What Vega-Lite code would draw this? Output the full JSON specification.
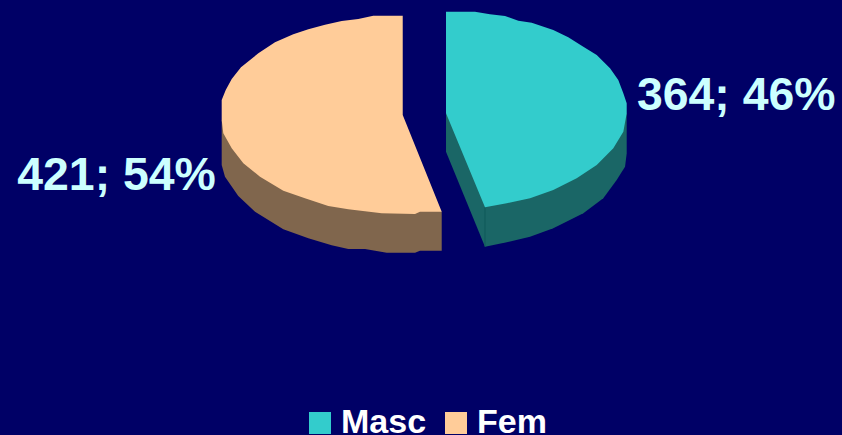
{
"$schema":"https://vega.github.io/schema/vega-lite/v6.json",
"width":842,"height":435,"padding":0,"autosize":{"type":"none"},
"background":"#000066",
"view":{"stroke":null},
"config":{"font":"Liberation Sans"},
"datasets":{
"walls":[
{"series":"Masc wall","ord":1,"x":52.97,"y":73.95},{"series":"Masc wall","ord":2,"x":52.97,"y":65.13},{"series":"Masc wall","ord":3,"x":57.60,"y":43.29},{"series":"Masc wall","ord":4,"x":60.18,"y":44.30},{"series":"Masc wall","ord":5,"x":62.95,"y":45.59},{"series":"Masc wall","ord":6,"x":65.71,"y":47.52},{"series":"Masc wall","ord":7,"x":69.28,"y":50.97},{"series":"Masc wall","ord":8,"x":71.65,"y":54.41},{"series":"Masc wall","ord":9,"x":73.24,"y":58.62},{"series":"Masc wall","ord":10,"x":74.23,"y":61.68},{"series":"Masc wall","ord":11,"x":74.43,"y":64.76},{"series":"Masc wall","ord":12,"x":74.43,"y":73.95},
{"series":"Fem wall","ord":1,"x":26.33,"y":72.41},{"series":"Fem wall","ord":2,"x":26.33,"y":62.07},{"series":"Fem wall","ord":3,"x":26.72,"y":59.38},{"series":"Fem wall","ord":4,"x":28.30,"y":54.94},{"series":"Fem wall","ord":5,"x":30.29,"y":51.33},{"series":"Fem wall","ord":6,"x":33.65,"y":47.29},{"series":"Fem wall","ord":7,"x":36.62,"y":45.22},{"series":"Fem wall","ord":8,"x":39.39,"y":43.61},{"series":"Fem wall","ord":9,"x":41.37,"y":42.76},{"series":"Fem wall","ord":10,"x":43.35,"y":42.76},{"series":"Fem wall","ord":11,"x":45.93,"y":41.91},{"series":"Fem wall","ord":12,"x":49.29,"y":41.91},{"series":"Fem wall","ord":13,"x":49.88,"y":42.37},{"series":"Fem wall","ord":14,"x":52.46,"y":42.37},{"series":"Fem wall","ord":15,"x":52.46,"y":51.33},{"series":"Fem wall","ord":16,"x":47.83,"y":60}
],
"faces":[
{"series":"Masc","ord":1,"x":52.97,"y":97.31},{"series":"Masc","ord":2,"x":56.41,"y":97.31},{"series":"Masc","ord":3,"x":58.19,"y":96.71},{"series":"Masc","ord":4,"x":59.98,"y":96.32},{"series":"Masc","ord":5,"x":61.56,"y":95.24},{"series":"Masc","ord":6,"x":63.15,"y":94.78},{"series":"Masc","ord":7,"x":65.71,"y":93.10},{"series":"Masc","ord":8,"x":67.49,"y":91.43},{"series":"Masc","ord":9,"x":69.28,"y":89.26},{"series":"Masc","ord":10,"x":70.87,"y":87.36},{"series":"Masc","ord":11,"x":72.45,"y":84.30},{"series":"Masc","ord":12,"x":73.43,"y":81.61},{"series":"Masc","ord":13,"x":74.03,"y":78.55},{"series":"Masc","ord":14,"x":74.43,"y":76.25},{"series":"Masc","ord":15,"x":74.43,"y":73.95},{"series":"Masc","ord":16,"x":74.03,"y":69.72},{"series":"Masc","ord":17,"x":72.84,"y":65.91},{"series":"Masc","ord":18,"x":70.87,"y":62.07},{"series":"Masc","ord":19,"x":68.49,"y":59.01},{"series":"Masc","ord":20,"x":65.71,"y":56.32},{"series":"Masc","ord":21,"x":62.95,"y":54.41},{"series":"Masc","ord":22,"x":60.18,"y":53.26},{"series":"Masc","ord":23,"x":57.60,"y":52.34},{"series":"Masc","ord":24,"x":52.97,"y":73.95},
{"series":"Fem","ord":1,"x":47.83,"y":96.39},{"series":"Fem","ord":2,"x":44.33,"y":96.39},{"series":"Fem","ord":3,"x":42.55,"y":95.63},{"series":"Fem","ord":4,"x":40.58,"y":95.17},{"series":"Fem","ord":5,"x":38.60,"y":94.32},{"series":"Fem","ord":6,"x":36.62,"y":93.26},{"series":"Fem","ord":7,"x":34.83,"y":92.11},{"series":"Fem","ord":8,"x":32.66,"y":90.28},{"series":"Fem","ord":9,"x":30.68,"y":87.75},{"series":"Fem","ord":10,"x":28.62,"y":84.53},{"series":"Fem","ord":11,"x":27.52,"y":81.84},{"series":"Fem","ord":12,"x":26.81,"y":79.31},{"series":"Fem","ord":13,"x":26.33,"y":77.01},{"series":"Fem","ord":14,"x":26.33,"y":72.41},{"series":"Fem","ord":15,"x":26.52,"y":69.36},{"series":"Fem","ord":16,"x":27.52,"y":65.91},{"series":"Fem","ord":17,"x":28.90,"y":62.46},{"series":"Fem","ord":18,"x":30.88,"y":59.38},{"series":"Fem","ord":19,"x":33.65,"y":56.16},{"series":"Fem","ord":20,"x":36.22,"y":54.41},{"series":"Fem","ord":21,"x":38.99,"y":52.64},{"series":"Fem","ord":22,"x":41.37,"y":51.89},{"series":"Fem","ord":23,"x":45.33,"y":50.97},{"series":"Fem","ord":24,"x":49.29,"y":50.80},{"series":"Fem","ord":25,"x":49.88,"y":51.33},{"series":"Fem","ord":26,"x":52.46,"y":51.33},{"series":"Fem","ord":27,"x":47.83,"y":73.56}
],
"edge":[
{"ord":1,"x":57.60,"y":52.34},{"ord":2,"x":57.60,"y":43.29}
],
"labels":[
{"series":"Masc","count":364,"share":46,"label":"364; 46%","x":75.65,"y":74.71},
{"series":"Fem","count":421,"share":54,"label":"421; 54%","x":2.05,"y":56.32}
]
},
"encoding":{
"x":{"field":"x","type":"quantitative","scale":{"domain":[0,100]},"axis":null},
"y":{"field":"y","type":"quantitative","scale":{"domain":[0,100]},"axis":null}
},
"layer":[
{"data":{"name":"walls"},"mark":{"type":"line","filled":true,"interpolate":"linear-closed"},
"encoding":{"order":{"field":"ord","type":"quantitative"},
"color":{"field":"series","type":"nominal","scale":{"domain":["Masc","Fem","Masc wall","Fem wall"],"range":["#33CCCC","#FFCC99","#1A6666","#80664D"]},
"legend":{"orient":"none","legendX":303,"legendY":407,"direction":"horizontal","title":null,"values":["Masc","Fem"],"symbolType":"square","symbolSize":484,"symbolStrokeWidth":0,"symbolOpacity":1,"labelFontSize":34,"labelFontWeight":"bold","labelColor":"#FFFFFF","labelFont":"Liberation Sans","labelOffset":4,"columnPadding":12,"labelLimit":200,"clipHeight":32}}}},
{"data":{"name":"edge"},"mark":{"type":"line","color":"#0F5A5A","strokeWidth":1},
"encoding":{"order":{"field":"ord","type":"quantitative"}}},
{"data":{"name":"faces"},"mark":{"type":"line","filled":true,"interpolate":"linear-closed"},
"encoding":{"order":{"field":"ord","type":"quantitative"},"color":{"field":"series","type":"nominal"}}},
{"data":{"name":"labels"},"mark":{"type":"text","align":"left","baseline":"alphabetic","fontSize":46.4,"fontWeight":"bold","font":"Liberation Sans","color":"#CCFFFF"},
"encoding":{"text":{"field":"label","type":"nominal"}}}
]
}
